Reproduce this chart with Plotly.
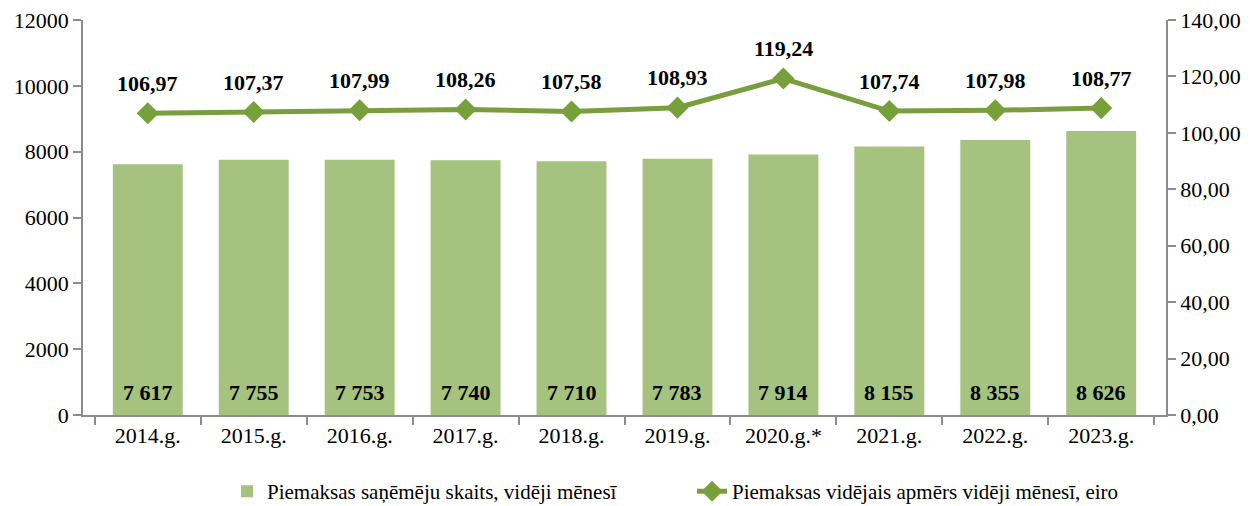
import plotly.graph_objects as go

years = ["2014.g.", "2015.g.", "2016.g.", "2017.g.", "2018.g.", "2019.g.", "2020.g.*", "2021.g.", "2022.g.", "2023.g."]
recipients = [7617, 7755, 7753, 7740, 7710, 7783, 7914, 8155, 8355, 8626]
avg_amount = [106.97, 107.37, 107.99, 108.26, 107.58, 108.93, 119.24, 107.74, 107.98, 108.77]

bar_name = "Piemaksas saņēmēju skaits, vidēji mēnesī"
line_name = "Piemaksas vidējais apmērs vidēji mēnesī, eiro"

FONT = "Liberation Serif"
AXIS_COL = "#8c8c8c"

fig = go.Figure()
fig.add_trace(go.Bar(
    x=years, y=recipients, name=bar_name,
    marker=dict(color="#a5c27e", line=dict(width=0)),
    hoverinfo="x+y",
))
fig.add_trace(go.Scatter(
    x=years, y=avg_amount, name=line_name, yaxis="y2", mode="lines+markers",
    line=dict(color="#7a9e3f", width=5),
    marker=dict(symbol="diamond", size=17, color="#76a03a", line=dict(width=0)),
))

label_font = dict(family=FONT, size=22, color="black", weight="bold")
annotations = [
    dict(x=x, y=v, xref="x", yref="y2", text=f"{v:.2f}".replace(".", ","),
         showarrow=False, yshift=30, font=label_font)
    for x, v in zip(years, avg_amount)
] + [
    dict(x=x, y=0, xref="x", yref="y", text=f"{v:,}".replace(",", " "),
         showarrow=False, yanchor="bottom", yshift=8, font=label_font)
    for x, v in zip(years, recipients)
]

axis_common = dict(showline=True, linecolor=AXIS_COL, linewidth=1.5, ticks="outside",
                   ticklen=8, tickcolor=AXIS_COL, tickwidth=1.5, showgrid=False,
                   automargin=False, tickfont=dict(family=FONT, size=22, color="black"))

fig.update_layout(
    width=1250, height=506,
    margin=dict(l=83, r=84, t=20, b=91, autoexpand=False),
    paper_bgcolor="white", plot_bgcolor="white",
    separators=", ",
    bargap=0.34,
    font=dict(family=FONT, size=20, color="black"),
    showlegend=True,
    legend=dict(orientation="h", x=0.133, xanchor="left", y=-0.142, yanchor="top",
                font=dict(family=FONT, size=21, color="black"),
                entrywidth=420, entrywidthmode="pixels",
                traceorder="normal"),
    annotations=annotations,
    xaxis=dict(tickson="boundaries", **axis_common),
    yaxis=dict(range=[0, 12000], dtick=2000, tickformat="d", zeroline=False, **axis_common),
    yaxis2=dict(range=[0, 140], dtick=20, tickformat=".2f", overlaying="y", side="right",
                zeroline=False, **axis_common),
)

fig.write_html("out.html", config={"displayModeBar": False},
               post_script="document.body.style.margin='0px';document.body.style.overflow='hidden';")
